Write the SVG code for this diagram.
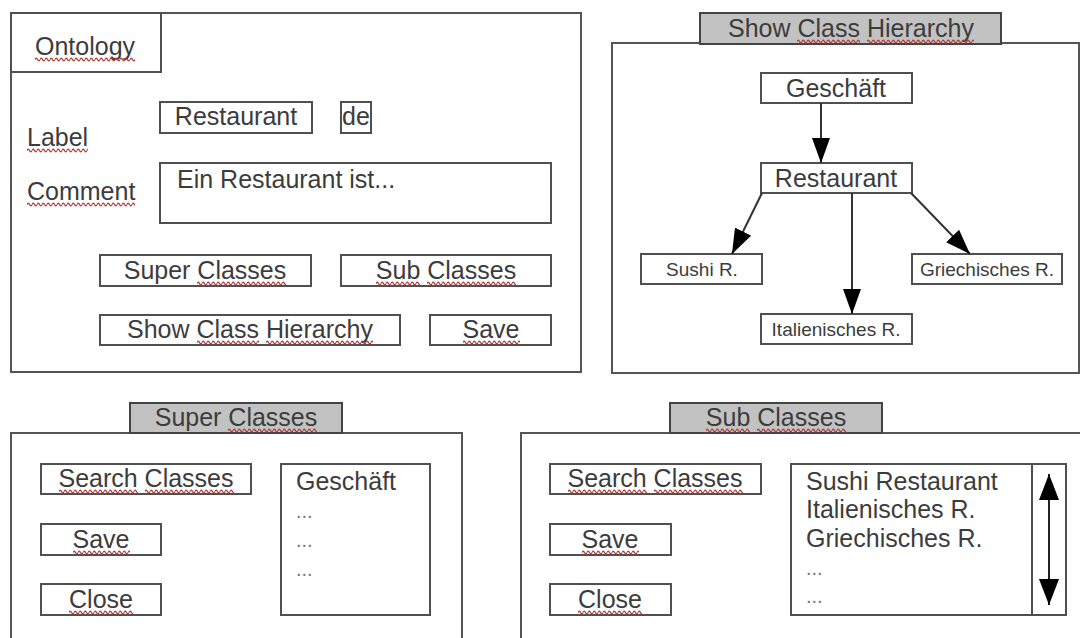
<svg xmlns="http://www.w3.org/2000/svg" width="1080" height="638" viewBox="0 0 1080 638">
<style>
.frame{fill:#fff;stroke:#555;stroke-width:2}
.box{fill:#fff;stroke:#505050;stroke-width:2}
.tab{fill:#c2c2c2;stroke:#444;stroke-width:2}
.t{font-family:"Liberation Sans",Arial,sans-serif;font-size:25px;fill:#3c3c3c}
.s{font-size:19px}
.m{text-anchor:middle}
.dots{fill:#777;font-size:20px}
.conn{stroke:#333;stroke-width:2;fill:none;marker-end:url(#ah)}
.dbl{stroke:#222;stroke-width:2;fill:none;marker-start:url(#ah2);marker-end:url(#ah2)}
.sp{fill:url(#wave)}
</style>
<defs>
<pattern id="wave" width="5" height="5" patternUnits="userSpaceOnUse">
<path d="M0 2.5 Q1.25 0 2.5 2.5 T5 2.5" fill="none" stroke="#b83a3a" stroke-width="1.3"/>
</pattern>
<marker id="ah" markerUnits="userSpaceOnUse" markerWidth="25" markerHeight="18" refX="25" refY="9" orient="auto">
<path d="M0 0 L25 9 L0 18 Z" fill="#000"/>
</marker>
<marker id="ah2" markerUnits="userSpaceOnUse" markerWidth="26" markerHeight="20" refX="26" refY="10" orient="auto-start-reverse">
<path d="M0 0 L26 10 L0 20 Z" fill="#000"/>
</marker>
</defs>
<rect width="1080" height="638" fill="#fff"/>

<g id="ontology-window">
<rect class="frame" x="11" y="13" width="570" height="359"/>
<rect class="box" x="11" y="13" width="150" height="59"/>
<text class="t" x="35" y="55">Ontology</text>
<rect class="sp" transform="translate(35,57)" width="100" height="5"/>
<text class="t" x="27" y="146">Label</text>
<rect class="sp" transform="translate(27,148)" width="61" height="5"/>
<text class="t" x="27" y="200">Comment</text>
<rect class="sp" transform="translate(27,202)" width="108" height="5"/>
</g>
<g id="label-field">
<rect class="box" x="160" y="102" width="152" height="31"/>
<text class="t m" x="236" y="125">Restaurant</text>
</g>
<g id="lang-field">
<rect class="box" x="341" y="102" width="30" height="31"/>
<text class="t" x="342" y="125">de</text>
</g>
<g id="comment-field">
<rect class="box" x="160" y="163" width="391" height="60"/>
<text class="t" x="177" y="188">Ein Restaurant ist...</text>
</g>
<g id="btn-super">
<rect class="box" x="100" y="255" width="211" height="31"/>
<text class="t m" x="205" y="279">Super Classes</text>
<rect class="sp" transform="translate(197,281)" width="89" height="5"/>
</g>
<g id="btn-sub">
<rect class="box" x="341" y="255" width="210" height="31"/>
<text class="t m" x="446" y="279">Sub Classes</text>
<rect class="sp" transform="translate(376,281)" width="44" height="5"/>
<rect class="sp" transform="translate(427,281)" width="89" height="5"/>
</g>
<g id="btn-hierarchy">
<rect class="box" x="100" y="315" width="300" height="30"/>
<text class="t m" x="250" y="338">Show Class Hierarchy</text>
<rect class="sp" transform="translate(197,340)" width="62" height="5"/>
<rect class="sp" transform="translate(266,340)" width="107" height="5"/>
</g>
<g id="btn-save">
<rect class="box" x="430" y="315" width="121" height="30"/>
<text class="t m" x="491" y="338">Save</text>
<rect class="sp" transform="translate(463,340)" width="57" height="5"/>
</g>

<g id="hierarchy-window">
<rect class="frame" x="612" y="43" width="467" height="330"/>
<rect class="tab" x="700" y="13" width="301" height="31"/>
<text class="t m" x="851" y="37">Show Class Hierarchy</text>
<rect class="sp" transform="translate(797,39)" width="63" height="5"/>
<rect class="sp" transform="translate(867,39)" width="107" height="5"/>
</g>
<g id="n-geschaeft">
<rect class="box" x="761" y="73" width="151" height="30"/>
<text class="t m" x="836" y="97">Geschäft</text>
</g>
<g id="n-restaurant">
<rect class="box" x="761" y="163" width="151" height="30"/>
<text class="t m" x="836" y="187">Restaurant</text>
</g>
<g id="n-sushi">
<rect class="box" x="641" y="254" width="121" height="30"/>
<text class="t s m" x="702" y="276">Sushi R.</text>
</g>
<g id="n-griech">
<rect class="box" x="912" y="254" width="150" height="30"/>
<text class="t s m" x="987" y="276">Griechisches R.</text>
</g>
<g id="n-ital">
<rect class="box" x="761" y="314" width="151" height="30"/>
<text class="t s m" x="836" y="336">Italienisches R.</text>
</g>
<g id="connectors">
<line class="conn" x1="821" y1="103" x2="821" y2="163"/>
<line class="conn" x1="762" y1="193" x2="732" y2="254"/>
<line class="conn" x1="852" y1="193" x2="852" y2="314"/>
<line class="conn" x1="911" y1="193" x2="970" y2="254"/>
</g>

<g id="super-window">
<rect class="frame" x="11" y="433" width="451" height="230"/>
<rect class="tab" x="130" y="403" width="212" height="30"/>
<text class="t m" x="236" y="426">Super Classes</text>
<rect class="sp" transform="translate(228,428)" width="89" height="5"/>
<rect class="box" x="41" y="464" width="210" height="30"/>
<text class="t m" x="146" y="487">Search Classes</text>
<rect class="sp" transform="translate(59,489)" width="79" height="5"/>
<rect class="sp" transform="translate(145,489)" width="89" height="5"/>
<rect class="box" x="41" y="524" width="120" height="31"/>
<text class="t m" x="101" y="548">Save</text>
<rect class="sp" transform="translate(73,550)" width="57" height="5"/>
<rect class="box" x="41" y="584" width="120" height="31"/>
<text class="t m" x="101" y="608">Close</text>
<rect class="sp" transform="translate(69,610)" width="64" height="5"/>
<rect class="box" x="281" y="464" width="149" height="151"/>
<text class="t" x="296" y="490">Geschäft</text>
<text class="t dots" x="296" y="518">...</text>
<text class="t dots" x="296" y="547">...</text>
<text class="t dots" x="296" y="576">...</text>
</g>

<g id="sub-window">
<rect class="frame" x="521" y="433" width="570" height="230"/>
<rect class="tab" x="670" y="403" width="212" height="30"/>
<text class="t m" x="776" y="426">Sub Classes</text>
<rect class="sp" transform="translate(706,428)" width="44" height="5"/>
<rect class="sp" transform="translate(757,428)" width="89" height="5"/>
<rect class="box" x="550" y="464" width="211" height="30"/>
<text class="t m" x="655" y="487">Search Classes</text>
<rect class="sp" transform="translate(568,489)" width="79" height="5"/>
<rect class="sp" transform="translate(654,489)" width="89" height="5"/>
<rect class="box" x="550" y="524" width="121" height="31"/>
<text class="t m" x="610" y="548">Save</text>
<rect class="sp" transform="translate(582,550)" width="57" height="5"/>
<rect class="box" x="550" y="584" width="121" height="31"/>
<text class="t m" x="610" y="608">Close</text>
<rect class="sp" transform="translate(578,610)" width="64" height="5"/>
<rect class="box" x="791" y="464" width="275" height="151"/>
<line x1="1032" y1="464" x2="1032" y2="615" stroke="#505050" stroke-width="2"/>
<text class="t" x="806" y="490">Sushi Restaurant</text>
<text class="t" x="806" y="518">Italienisches R.</text>
<text class="t" x="806" y="547">Griechisches R.</text>
<text class="t dots" x="806" y="575">...</text>
<text class="t dots" x="806" y="603">...</text>
<line class="dbl" x1="1049" y1="474" x2="1049" y2="605"/>
</g>
</svg>
